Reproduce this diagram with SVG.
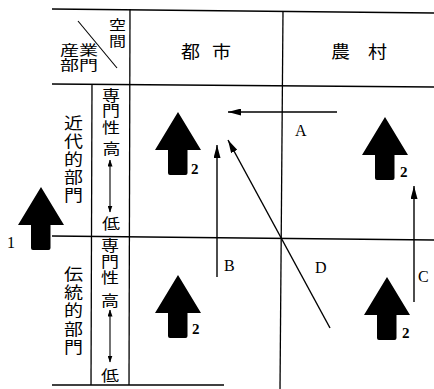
<svg xmlns="http://www.w3.org/2000/svg" xmlns:xlink="http://www.w3.org/1999/xlink" width="434" height="389" viewBox="0 0 434 389">
<style>
.grid{stroke:#000;stroke-width:1.3;fill:none}
.jp{font-family:"Noto Sans CJK JP","Noto Sans CJK SC",sans-serif;fill:#000}
.c{text-anchor:middle}
.lat{font-family:"Liberation Serif",serif;fill:#000}
.thin{stroke:#000;stroke-width:1.4;fill:none}
.small{stroke:#000;stroke-width:1.1;fill:none}
</style>
<defs>
<marker id="ah" markerUnits="userSpaceOnUse" markerWidth="14" markerHeight="7" refX="13" refY="3.5" orient="auto">
<path d="M0,0 L13,3.5 L0,7 Z" fill="#000"/>
</marker>
<marker id="sh" markerUnits="userSpaceOnUse" markerWidth="7" markerHeight="5" refX="6.5" refY="2.5" orient="auto">
<path d="M0,0 L7,2.5 L0,5 Z" fill="#000"/>
</marker>
<marker id="shs" markerUnits="userSpaceOnUse" markerWidth="7" markerHeight="5" refX="0.5" refY="2.5" orient="auto">
<path d="M7,0 L0,2.5 L7,5 Z" fill="#000"/>
</marker>
<path id="big" d="M0,0 L23,38 L9.5,38 L9.5,61 Q9.5,63 7.5,63 L-8,63 Q-10,63 -10,61 L-10,38 L-23,38 Z" fill="#000"/>
</defs>

<g id="table">
<line class="grid" x1="52" y1="9" x2="434" y2="13"/>
<line class="grid" x1="52" y1="84" x2="434" y2="87"/>
<line class="grid" x1="52" y1="236" x2="434" y2="240"/>
<line class="grid" x1="52" y1="385" x2="224" y2="385"/>
<line class="grid" x1="130" y1="9" x2="129" y2="385"/>
<line class="grid" x1="92" y1="84" x2="91" y2="385"/>
<line class="grid" x1="283" y1="11" x2="280" y2="389"/>
<line class="small" x1="78" y1="21" x2="117" y2="68"/>
</g>

<g id="header-corner">
<text class="jp" font-size="19" transform="translate(60,55) scale(1,0.7)">産業</text>
<text class="jp" font-size="19" transform="translate(60,70) scale(1,0.7)">部門</text>
<text class="jp c" font-size="17" transform="translate(117.5,29.5) scale(1,0.8)">空</text>
<text class="jp c" font-size="17" transform="translate(117.5,46) scale(1,0.8)">間</text>
</g>

<g id="col-city"><text class="jp" font-size="19" x="181 200 212" transform="translate(0,58) scale(1,0.88)">都 市</text></g>
<g id="col-rural"><text class="jp" font-size="19" x="331 350 368" transform="translate(0,58) scale(1,0.88)">農 村</text></g>

<g id="row-modern">
<text class="jp c" font-size="19" transform="translate(73.5,129) scale(1,0.85)">近</text>
<text class="jp c" font-size="19" transform="translate(73.5,147) scale(1,0.85)">代</text>
<text class="jp c" font-size="19" transform="translate(73.5,165) scale(1,0.85)">的</text>
<text class="jp c" font-size="19" transform="translate(73.5,183) scale(1,0.85)">部</text>
<text class="jp c" font-size="19" transform="translate(73.5,201) scale(1,0.85)">門</text>
</g>
<g id="row-traditional">
<text class="jp c" font-size="19" transform="translate(73.5,280) scale(1,0.85)">伝</text>
<text class="jp c" font-size="19" transform="translate(73.5,298) scale(1,0.85)">統</text>
<text class="jp c" font-size="19" transform="translate(73.5,316) scale(1,0.85)">的</text>
<text class="jp c" font-size="19" transform="translate(73.5,335) scale(1,0.85)">部</text>
<text class="jp c" font-size="19" transform="translate(73.5,353) scale(1,0.85)">門</text>
</g>

<g id="spec-upper">
<text class="jp c" font-size="18" transform="translate(111,101) scale(1,0.82)">専</text>
<text class="jp c" font-size="18" transform="translate(111,116) scale(1,0.82)">門</text>
<text class="jp c" font-size="18" transform="translate(111,133) scale(1,0.82)">性</text>
<text class="jp c" font-size="18" transform="translate(111.5,154) scale(1,0.85)">高</text>
<text class="jp c" font-size="18" transform="translate(111,229) scale(1,0.85)">低</text>
<line class="small" x1="110" y1="160" x2="110" y2="212" marker-start="url(#shs)" marker-end="url(#sh)"/>
</g>
<g id="spec-lower">
<text class="jp c" font-size="18" transform="translate(110,251) scale(1,0.82)">専</text>
<text class="jp c" font-size="18" transform="translate(110,267) scale(1,0.82)">門</text>
<text class="jp c" font-size="18" transform="translate(110,283) scale(1,0.82)">性</text>
<text class="jp c" font-size="18" transform="translate(110,306) scale(1,0.85)">高</text>
<text class="jp c" font-size="18" transform="translate(110,381) scale(1,0.85)">低</text>
<line class="small" x1="110" y1="310" x2="110" y2="362" marker-start="url(#shs)" marker-end="url(#sh)"/>
</g>

<g id="arrow1">
<use xlink:href="#big" href="#big" x="41" y="187"/>
<text class="lat" font-size="16" x="7" y="248">1</text>
</g>
<g id="arrow2-city-modern">
<use xlink:href="#big" href="#big" x="178" y="112"/>
<text class="lat" font-size="15" font-weight="bold" x="191" y="174">2</text>
</g>
<g id="arrow2-rural-modern">
<use xlink:href="#big" href="#big" x="385" y="117"/>
<text class="lat" font-size="15" font-weight="bold" x="400" y="177">2</text>
</g>
<g id="arrow2-city-trad">
<use xlink:href="#big" href="#big" x="178" y="275"/>
<text class="lat" font-size="15" font-weight="bold" x="192" y="334">2</text>
</g>
<g id="arrow2-rural-trad">
<use xlink:href="#big" href="#big" x="387" y="277"/>
<text class="lat" font-size="15" font-weight="bold" x="402" y="338">2</text>
</g>

<g id="connectors">
<line class="thin" x1="337" y1="112" x2="228" y2="112" marker-end="url(#ah)"/>
<line class="thin" x1="217" y1="277" x2="217" y2="145" marker-end="url(#ah)"/>
<line class="thin" x1="414" y1="302" x2="414" y2="186" marker-end="url(#ah)"/>
<line class="thin" x1="330" y1="328" x2="228" y2="140" marker-end="url(#ah)"/>
</g>
<g id="labels">
<text class="lat" font-size="16" x="295" y="136">A</text>
<text class="lat" font-size="16" x="224" y="271">B</text>
<text class="lat" font-size="16" x="418" y="282">C</text>
<text class="lat" font-size="16" x="315" y="273">D</text>
</g>
</svg>
